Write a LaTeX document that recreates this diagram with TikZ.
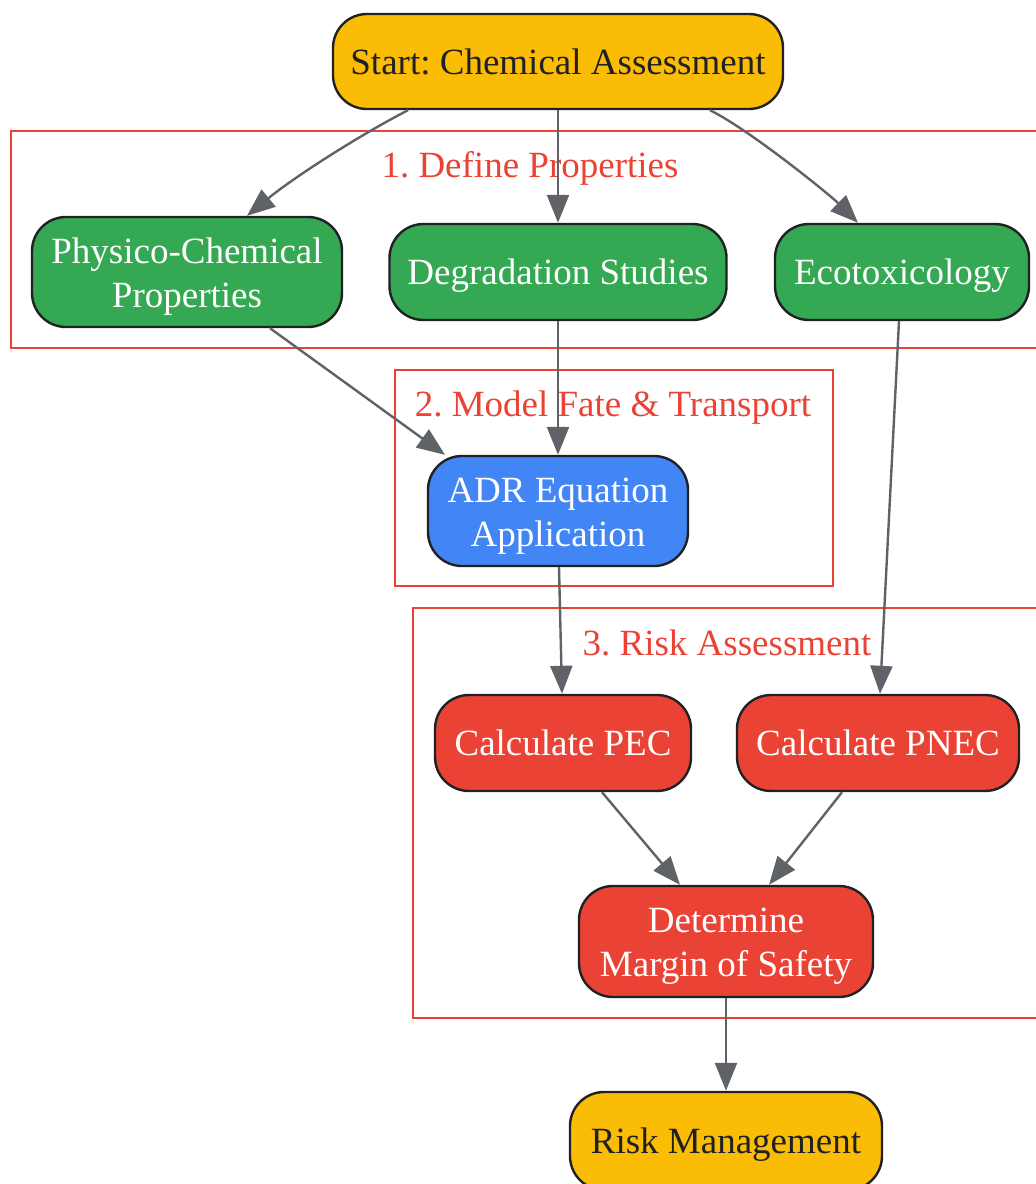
\documentclass[tikz,border=0pt]{standalone}
\usepackage{fontspec}
\setmainfont{Liberation Serif}
\usetikzlibrary{arrows.meta}

\definecolor{gyellow}{HTML}{FBBC05}
\definecolor{ggreen}{HTML}{34A853}
\definecolor{gblue}{HTML}{4285F4}
\definecolor{gred}{HTML}{EA4335}
\definecolor{edgegray}{HTML}{5F6368}
\definecolor{darktext}{HTML}{202124}

\begin{document}
\frenchspacing
\begin{tikzpicture}[x=1pt, y=-1pt,
	labelfont/.style={font=\fontsize{37}{44}\selectfont,
		execute at begin node={\rule{0pt}{33pt}}, execute at end node={\rule[-8pt]{0pt}{8pt}}},
	twoline/.style={text height=78pt, text depth=8pt},
	box/.style={draw=darktext, line width=2.4pt, rounded corners=34pt, align=center,
		inner sep=0pt, labelfont},
	terminal/.style={box, fill=gyellow, text=darktext},
	propbox/.style={box, fill=ggreen, text=white},
	modelbox/.style={box, fill=gblue, text=white},
	riskbox/.style={box, fill=gred, text=white},
	cluster/.style={draw=gred, line width=2.2pt},
	clusterlabel/.style={text=gred, labelfont},
	flow/.style={draw=edgegray, line width=2.4pt, -{Triangle[length=28pt, width=22pt]}}]
			% Page frame
			\useasboundingbox (0,0) rectangle (1036,1184);
			\clip (0,0) rectangle (1036,1184);
			
			% Clusters
			\draw[cluster] (11,131) rectangle (1050,348);
			\draw[cluster] (395,370) rectangle (833,586);
			\draw[cluster] (413,608) rectangle (1050,1018);
			\node[clusterlabel] (lab1) at (530,165) {1. Define Properties};
			\node[clusterlabel] (lab2) at (613,404) {2. Model Fate \& Transport};
			\node[clusterlabel] (lab3) at (727,643) {3. Risk Assessment};
			
			% Nodes
			\node[terminal, minimum width=450pt, minimum height=95pt] (start) at (558,61.5) {Start: Chemical Assessment};
			\node[propbox, twoline, minimum width=310pt, minimum height=110pt] (phys) at (187,272) {Physico-Chemical\\Properties};
			\node[propbox, minimum width=337pt, minimum height=96pt] (deg) at (558,272) {Degradation Studies};
			\node[propbox, minimum width=254pt, minimum height=96pt] (eco) at (902,272) {Ecotoxicology};
			\node[modelbox, twoline, minimum width=260pt, minimum height=110pt] (adr) at (558,511) {ADR Equation\\Application};
			\node[riskbox, minimum width=256pt, minimum height=96pt] (pec) at (563,743) {Calculate PEC};
			\node[riskbox, minimum width=282pt, minimum height=96pt] (pnec) at (878,743) {Calculate PNEC};
			\node[riskbox, twoline, minimum width=294pt, minimum height=111pt] (det) at (726,941.5) {Determine\\Margin of Safety};
			\node[terminal, minimum width=312pt, minimum height=98pt] (risk) at (726,1141) {Risk Management};
			
			% Connectors
			\draw[flow] ([xshift=-150pt]start.south) .. controls (358,136) and (293,178) .. ([xshift=60pt]phys.north);
			\draw[flow] (start.south) -- (deg.north);
			\draw[flow] ([xshift=152pt]start.south) .. controls (750,130) and (830,195) .. ([xshift=-44pt]eco.north);
			\draw[flow] ([xshift=83pt]phys.south) -- ([xshift=-113pt]adr.north);
			\draw[flow] (deg.south) -- (adr.north);
			\draw[flow] ([xshift=-3pt]eco.south) -- ([xshift=2pt]pnec.north);
			\draw[flow] ([xshift=1pt]adr.south) -- ([xshift=-1pt]pec.north);
			\draw[flow] ([xshift=39pt]pec.south) -- ([xshift=-46pt]det.north);
			\draw[flow] ([xshift=-36pt]pnec.south) -- ([xshift=43pt]det.north);
			\draw[flow] (det.south) -- (risk.north);
			
		\end{tikzpicture}
\end{document}
